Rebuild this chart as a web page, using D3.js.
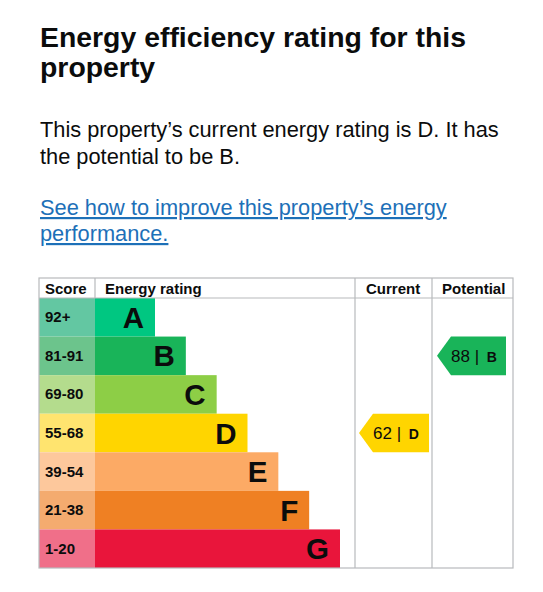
<!DOCTYPE html>
<html>
<head>
<meta charset="utf-8">
<script src="https://cdn.jsdelivr.net/npm/d3@7"></script>
<style>
  body { margin: 0; background: #fff; }
  text { font-family: "Liberation Sans", Arial, sans-serif; }
</style>
</head>
<body>
<script>
// bands, score ranges and colours of the rating table
var bands = ["A", "B", "C", "D", "E", "F", "G"];
var scoreRanges = ["92+", "81-91", "69-80", "55-68", "39-54", "21-38", "1-20"];
var bandColours = ["#00c781", "#19b459", "#8dce46", "#ffd500", "#fcaa65", "#ef8023", "#e9153b"];
var scoreColours = ["#63c7a2", "#6cc48c", "#b4dc8d", "#ffe46f", "#fdc89c", "#f4ab6f", "#f06f89"];
var headers = ["Score", "Energy rating", "Current", "Potential"];

var currentScore = 62, currentBand = "D";
var potentialScore = 88, potentialBand = "B";

var titleLines = ["Energy efficiency rating for this", "property"];
var introLines = ["This property\u2019s current energy rating is D. It has", "the potential to be B."];
var linkLines = ["See how to improve this property\u2019s energy", "performance."];

function drawRating(){
  var svgWidth = 543, svgHeight = 592;
  var table = {left:39, top:278, right:513, bottom:568, header:20};
  var scoreRight = 95, currentLeft = 355, potentialLeft = 432;
  var grey = "#b8babc";

  var svg = d3.select("body")
      .append("svg")
      .attr("width", svgWidth)
      .attr("height", svgHeight);

  // heading and text
  svg.selectAll(".title")
    .data(titleLines)
    .enter()
    .append("text")
    .attr("class", "title")
    .attr("x", 40)
    .attr("y", function(d, i){ return 47 + i * 30; })
    .attr("font-size", "28.4px")
    .attr("font-weight", "bold")
    .attr("fill", "#0b0c0c")
    .text(function(d){ return d; });

  svg.selectAll(".intro")
    .data(introLines)
    .enter()
    .append("text")
    .attr("class", "intro")
    .attr("x", 40)
    .attr("y", function(d, i){ return 137 + i * 27; })
    .attr("font-size", "21.8px")
    .attr("fill", "#0b0c0c")
    .text(function(d){ return d; });

  svg.selectAll(".link")
    .data(linkLines)
    .enter()
    .append("text")
    .attr("class", "link")
    .attr("x", 40)
    .attr("y", function(d, i){ return 215 + i * 26; })
    .attr("font-size", "21.8px")
    .attr("fill", "#1d70b8")
    .attr("text-decoration", "underline")
    .text(function(d){ return d; });

  // scales
  var y = d3.scaleBand()
      .domain(bands)
      .range([table.top + table.header, table.bottom]);

  var barEnd = d3.scaleLinear()
      .domain([0, bands.length - 1])
      .range([155, 340]);

  var g = svg.append("g");

  // score cells
  g.selectAll(".score")
    .data(bands)
    .enter()
    .append("rect")
    .attr("x", table.left)
    .attr("y", function(d){ return y(d); })
    .attr("width", scoreRight - table.left)
    .attr("height", y.bandwidth())
    .attr("fill", function(d, i){ return scoreColours[i]; });

  g.selectAll(".scoreText")
    .data(scoreRanges)
    .enter()
    .append("text")
    .attr("x", table.left + 6)
    .attr("y", function(d, i){ return y(bands[i]) + y.bandwidth() / 2 + 5; })
    .attr("font-size", "15px")
    .attr("font-weight", "bold")
    .attr("fill", "#0b0c0c")
    .text(function(d){ return d; });

  // band bars
  g.selectAll(".bar")
    .data(bands)
    .enter()
    .append("rect")
    .attr("class", "bar")
    .attr("x", scoreRight)
    .attr("y", function(d){ return y(d); })
    .attr("width", function(d, i){ return barEnd(i) - scoreRight; })
    .attr("height", y.bandwidth())
    .attr("fill", function(d, i){ return bandColours[i]; });

  g.selectAll(".letter")
    .data(bands)
    .enter()
    .append("text")
    .attr("x", function(d, i){ return barEnd(i) - 11; })
    .attr("y", function(d){ return y(d) + y.bandwidth() / 2 + 10.5; })
    .attr("text-anchor", "end")
    .attr("font-size", "29.5px")
    .attr("font-weight", "bold")
    .attr("fill", "#0b0c0c")
    .text(function(d){ return d; });

  // table lines
  var lines = g.append("g")
      .attr("stroke", grey)
      .attr("stroke-width", 1.2)
      .attr("fill", "none");

  lines.append("rect")
    .attr("x", table.left)
    .attr("y", table.top)
    .attr("width", table.right - table.left)
    .attr("height", table.bottom - table.top);

  lines.append("line")
    .attr("x1", table.left).attr("x2", table.right)
    .attr("y1", table.top + table.header).attr("y2", table.top + table.header);

  lines.append("line")
    .attr("x1", scoreRight).attr("x2", scoreRight)
    .attr("y1", table.top).attr("y2", table.top + table.header);

  [currentLeft, potentialLeft].forEach(function(xx){
    lines.append("line")
      .attr("x1", xx).attr("x2", xx)
      .attr("y1", table.top).attr("y2", table.bottom);
  });

  // header text
  var headerX = [table.left + 6, scoreRight + 10, currentLeft + 11, potentialLeft + 10];
  g.selectAll(".header")
    .data(headers)
    .enter()
    .append("text")
    .attr("x", function(d, i){ return headerX[i]; })
    .attr("y", table.top + 15.5)
    .attr("font-size", "15px")
    .attr("font-weight", "bold")
    .attr("fill", "#0b0c0c")
    .text(function(d){ return d; });

  // arrows for current and potential
  function arrow(x0, x1, band, score){
    var top = y(band), h = y.bandwidth(), tip = 14;
    var colour = bandColours[bands.indexOf(band)];
    var a = g.append("g");
    a.append("path")
      .attr("d", "M" + x0 + "," + (top + h / 2) +
                 "L" + (x0 + tip) + "," + top +
                 "L" + x1 + "," + top +
                 "L" + x1 + "," + (top + h) +
                 "L" + (x0 + tip) + "," + (top + h) + "Z")
      .attr("fill", colour);
    var t = a.append("text")
      .attr("x", x0 + tip)
      .attr("y", top + h / 2 + 6)
      .attr("fill", "#0b0c0c");
    t.append("tspan")
      .attr("font-size", "17px")
      .text(score + " | ");
    t.append("tspan")
      .attr("font-size", "14px")
      .attr("font-weight", "bold")
      .attr("dx", 3)
      .text(band);
  }

  arrow(currentLeft + 4, potentialLeft - 3, currentBand, currentScore);
  arrow(potentialLeft + 5, table.right - 7, potentialBand, potentialScore);
}

drawRating();
</script>
</body>
</html>
